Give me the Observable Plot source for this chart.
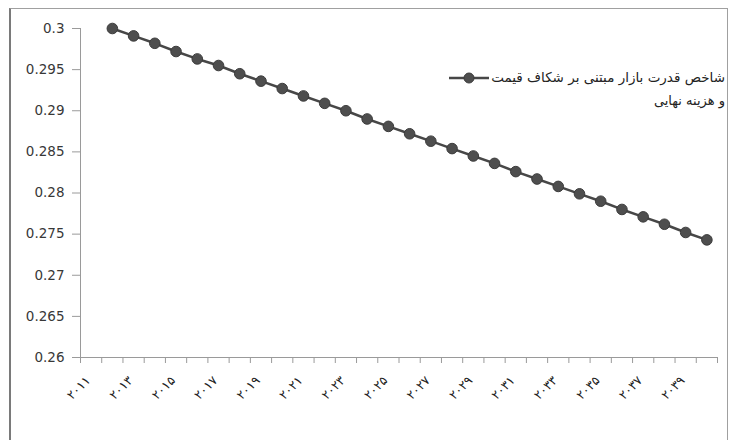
<!DOCTYPE html>
<html><head><meta charset="utf-8">
<script src="https://cdn.jsdelivr.net/npm/d3@7"></script>
<script src="https://cdn.jsdelivr.net/npm/@observablehq/plot@0.6"></script>
<style>
body{margin:0;background:#fff}
#wrap{position:relative;width:737px;height:440px;overflow:hidden;font-family:"DejaVu Sans",sans-serif;background:#fff}
#frame{position:absolute;left:9px;top:8px;width:719px;height:460px;border:1.5px solid #a0a0a0;border-left:2px solid #7a7a7a;box-sizing:border-box}
#chart{position:absolute;left:0;top:0}
#legend{position:absolute;right:12px;top:65px;direction:rtl;font-size:13.5px;color:#222;line-height:24px;text-align:right;white-space:nowrap}
#legend svg{vertical-align:middle;margin-right:2px}
#legend .l2{font-size:13px}
</style></head><body>
<div id="wrap"><div id="frame"></div><div id="chart"></div><div id="legend"></div></div>
<script>
const categories = [2011,2012,2013,2014,2015,2016,2017,2018,2019,2020,2021,2022,2023,2024,2025,2026,2027,2028,2029,2030,2031,2032,2033,2034,2035,2036,2037,2038,2039,2040];
const values = [null,0.3000,0.2991,0.2982,0.2972,0.2963,0.2955,0.2945,0.2936,0.2927,0.2918,0.2909,0.2900,0.2890,0.2881,0.2872,0.2863,0.2854,0.2845,0.2836,0.2826,0.2817,0.2808,0.2799,0.2790,0.2780,0.2771,0.2762,0.2752,0.2743];
const tickYears = [2011,2013,2015,2017,2019,2021,2023,2025,2027,2029,2031,2033,2035,2037,2039];
const yTicks = [0.26,0.265,0.27,0.275,0.28,0.285,0.29,0.295,0.3];
const yDomain = [0.26, 0.3];
const seriesLine1 = "شاخص قدرت بازار مبتنی بر شکاف قیمت";
const seriesLine2 = "و هزینه نهایی";

const data = categories.map((year, i) => ({year, value: values[i]}));
const xDomain = [categories[0] - 0.5, categories[categories.length - 1] + 0.5];
const boundaries = categories.map(c => c - 0.5).concat([xDomain[1]]);
const persian = "۰۱۲۳۴۵۶۷۸۹";
const toPersian = d => String(d).replace(/[0-9]/g, c => persian[+c]);
const lineColor = "#474747";

const chart = Plot.plot({
  width: 737,
  height: 440,
  marginLeft: 80,
  marginRight: 20,
  marginTop: 28,
  marginBottom: 83,
  style: {background: "transparent", fontFamily: "DejaVu Sans, sans-serif"},
  x: {type: "linear", domain: xDomain, label: null},
  y: {domain: yDomain, label: null},
  marks: [
    Plot.axisY({ticks: yTicks, tickSize: 8, tickFormat: () => "", stroke: "#9a9a9a", label: null}),
    Plot.axisY({ticks: yTicks, tickSize: 0, tickPadding: 16, tickFormat: d => String(+d.toFixed(3)), fontSize: 13.5, fill: "#383838", label: null}),
    Plot.axisX({ticks: boundaries, tickSize: 6, tickFormat: () => "", stroke: "#9a9a9a", label: null}),
    Plot.axisX({ticks: tickYears, tickSize: 0, tickPadding: 21, tickRotate: -45, tickFormat: toPersian, fontSize: 12.5, fill: "#222", dx: -3, label: null}),
    Plot.ruleX([xDomain[0]], {stroke: "#9a9a9a"}),
    Plot.ruleY([yDomain[0]], {stroke: "#9a9a9a"}),
    Plot.line(data, {x: "year", y: "value", stroke: lineColor, strokeWidth: 2.5}),
    Plot.dot(data, {x: "year", y: "value", r: 5.3, fill: "#4e4e4e", stroke: "#3c3c3c", strokeWidth: 1})
  ]
});
document.getElementById("chart").appendChild(chart);

const legend = document.getElementById("legend");
const l1 = document.createElement("div");
const t1 = document.createElement("span");
t1.textContent = seriesLine1;
l1.appendChild(t1);
const sym = document.createElementNS("http://www.w3.org/2000/svg", "svg");
sym.setAttribute("width", "40");
sym.setAttribute("height", "14");
sym.innerHTML = `<line x1="0" y1="7" x2="40" y2="7" stroke="${lineColor}" stroke-width="2.5"/><circle cx="20" cy="7" r="5" fill="#4e4e4e" stroke="#3c3c3c"/>`;
l1.appendChild(sym);
const l2 = document.createElement("div");
l2.className = "l2";
l2.textContent = seriesLine2;
legend.appendChild(l1);
legend.appendChild(l2);
</script>
</body></html>
